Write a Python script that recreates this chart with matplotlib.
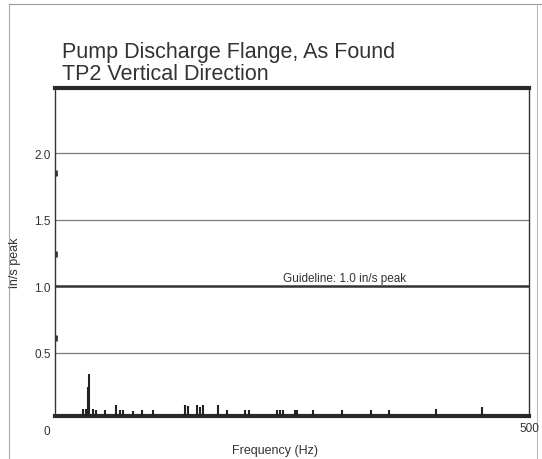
import numpy as np
import matplotlib.pyplot as plt

plt.rcParams['font.family'] = ['Liberation Sans', 'DejaVu Sans']

title_lines = ["Pump Discharge Flange, As Found", "TP2 Vertical Direction"]
x_label = "Frequency (Hz)"
y_label = "in/s peak"
guideline = 1.0
guideline_text = "Guideline: 1.0 in/s peak"
grid_levels = [0.5, 1.5, 2.0]
y_ticks = [0.5, 1.0, 1.5, 2.0]

# spectrum lines (Hz, in/s peak)
freqs = [30, 33, 35, 36, 40, 43, 53, 64, 69, 72, 82, 92, 103,
         137, 140, 150, 153, 156, 172, 181, 200, 205,
         234, 237, 240, 253, 255, 272, 303, 333, 352, 402, 450]
amps = [0.08, 0.08, 0.24, 0.34, 0.08, 0.07, 0.07, 0.11, 0.07, 0.07, 0.06, 0.07, 0.07,
        0.11, 0.10, 0.11, 0.09, 0.11, 0.11, 0.07, 0.07, 0.07,
        0.07, 0.07, 0.07, 0.07, 0.07, 0.07, 0.07, 0.07, 0.07, 0.08, 0.09]

# small dark marks sitting on the left axis
edge_marks = [1.85, 1.24, 0.61]

fig = plt.figure(figsize=(5.42, 4.6), dpi=100)
ax = fig.add_axes([0.1015, 0.0935, 0.8745, 0.713])

y_lo, y_hi = 0.025, 2.49
ax.set_xlim(0, 500)
ax.set_ylim(y_lo, y_hi)

for lev in grid_levels:
    ax.axhline(lev, color='#7a7a7a', lw=0.9, zorder=1)
ax.axhline(guideline, color='#333333', lw=1.8, zorder=1)
ax.text(240, guideline + 0.02, guideline_text, fontsize=8.5, color='#333333',
        ha='left', va='bottom')

ax.vlines(freqs, y_lo, amps, color='#222222', lw=1.5, zorder=3)
ax.plot([1.5] * len(edge_marks), edge_marks, ls='none', marker='|', ms=5,
        mew=2, color='#333333', zorder=4)

ax.set_yticks(y_ticks)
ax.set_yticklabels([f"{v:.1f}" for v in y_ticks], fontsize=8.5, color='#333333')
ax.tick_params(axis='y', length=0, pad=3)
ax.set_xticks([])

for side in ['left', 'right']:
    ax.spines[side].set_linewidth(1.0)
    ax.spines[side].set_color('#333333')
for side in ['top', 'bottom']:
    ax.spines[side].set_linewidth(3.0)
    ax.spines[side].set_color('#2a2a2a')

fig.text(47 / 542, 1 - 432 / 460, "0", fontsize=8.5, color='#333333', ha='center', va='center')
fig.text(529 / 542, 1 - 429 / 460, "500", fontsize=8.5, color='#333333', ha='center', va='center')
fig.text(275 / 542, 1 - 451 / 460, x_label, fontsize=9, color='#333333', ha='center', va='center')
fig.text(15 / 542, 1 - 263 / 460, y_label, fontsize=9, color='#333333', ha='center',
         va='center', rotation=90)

fig.text(62 / 542, 1 - 58 / 460, title_lines[0], fontsize=15.5, color='#333333', ha='left', va='baseline')
fig.text(62 / 542, 1 - 80 / 460, title_lines[1], fontsize=15.5, color='#333333', ha='left', va='baseline')

# scan frame lines
fig.add_artist(plt.Line2D([9 / 542, 9 / 542], [0, 1 - 5 / 460], color='#aaaaaa', lw=0.8))
fig.add_artist(plt.Line2D([9 / 542, 1], [1 - 5 / 460, 1 - 5 / 460], color='#999999', lw=0.8))
fig.add_artist(plt.Line2D([537 / 542, 537 / 542], [0, 1 - 5 / 460], color='#bbbbbb', lw=0.8))

fig.savefig('out.png', dpi=100, facecolor='white')
